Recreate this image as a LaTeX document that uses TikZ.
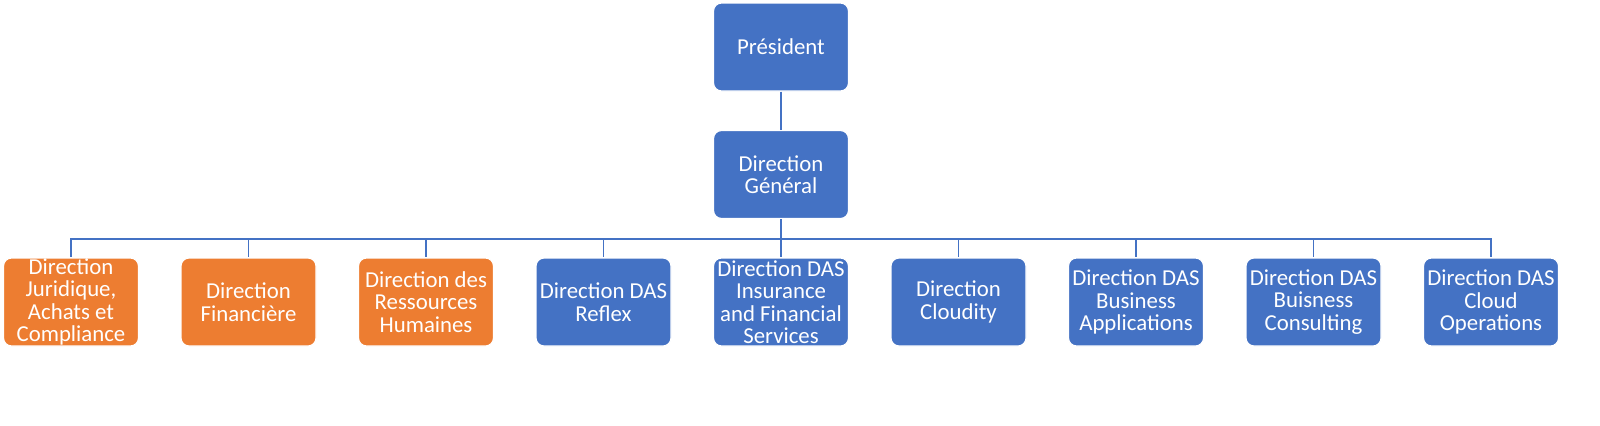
\documentclass[tikz,border=0pt]{standalone}
\usepackage{fontspec}
\setmainfont{Carlito}
\usetikzlibrary{positioning}
\definecolor{boxblue}{HTML}{4472C4}
\definecolor{boxorange}{HTML}{ED7D31}

\begin{document}
\begin{tikzpicture}[x = 0.5pt, y = -0.5pt, node distance = 63.75pt and 88.75pt, on grid,
    box/.style = {rectangle, rounded corners = 4pt, draw = white, line width = 0.6pt,
      minimum width = 67.5pt, minimum height = 44pt, inner xsep = 0.5pt, inner ysep = -0.5pt,
      align = center, text = white, font = \fontsize{11.4}{11.25}\selectfont},
    bluebox/.style = {box, fill = boxblue},
    orangebox/.style = {box, fill = boxorange},
    line/.style = {boxblue, line width = 0.75pt},
    bus/.style = {to path = {-- ++(0,20) -| (\tikztotarget)}}]
  \useasboundingbox (0,0) rectangle (1600,425);
  \node[bluebox] (P) at (781,47) {Président};
  \node[bluebox] (G) [below=of P] {Direction\\Général};
  \node[bluebox] (I) [below=of G] {Direction DAS\\Insurance\\and Financial\\Services};
  \node[bluebox] (X) [left=of I] {Direction DAS\\Reflex};
  \node[orangebox] (H) [left=of X] {Direction des\\Ressources\\Humaines};
  \node[orangebox] (F) [left=of H] {Direction\\Financière};
  \node[orangebox] (J) [left=of F] {Direction\\Juridique,\\Achats et\\Compliance};
  \node[bluebox] (C) [right=of I] {Direction\\Cloudity};
  \node[bluebox] (BA) [right=of C] {Direction DAS\\Business\\Applications};
  \node[bluebox] (BC) [right=of BA] {Direction DAS\\Buisness\\Consulting};
  \node[bluebox] (CO) [right=of BC] {Direction DAS\\Cloud\\Operations};
  \path[line]
    (P) edge (G)
    (G) edge (I)
    (G.south) edge [bus] (J.north)
              edge [bus] (F.north)
              edge [bus] (H.north)
              edge [bus] (X.north)
              edge [bus] (C.north)
              edge [bus] (BA.north)
              edge [bus] (BC.north)
              edge [bus] (CO.north);
\end{tikzpicture}
\end{document}
